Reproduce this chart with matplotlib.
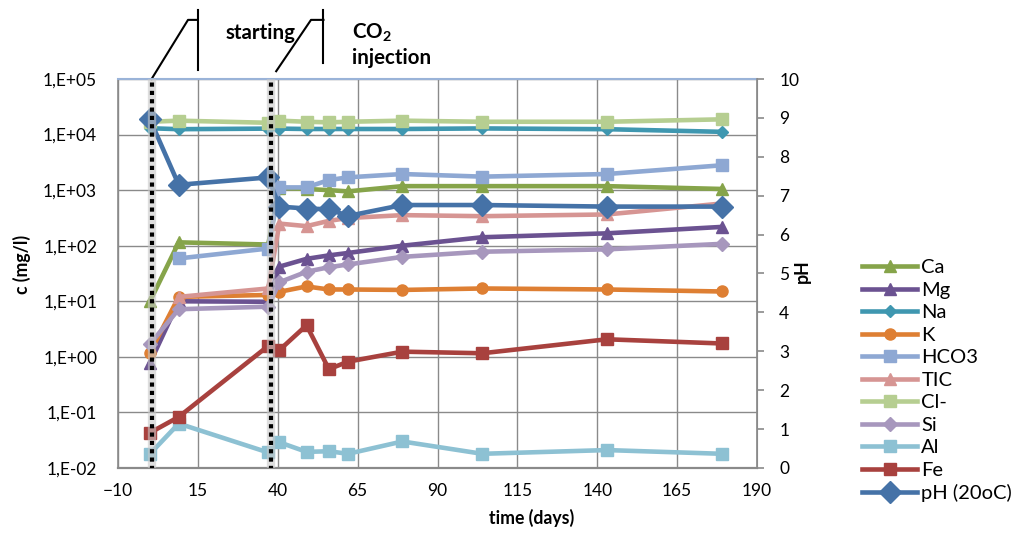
import numpy as np
import matplotlib
matplotlib.use("Agg")
import matplotlib.pyplot as plt
import matplotlib.transforms as mtransforms
from matplotlib.ticker import FixedLocator, FuncFormatter, NullLocator

plt.rcParams['font.family'] = ['Lato', 'DejaVu Sans']
plt.rcParams['mathtext.fontset'] = 'custom'
plt.rcParams['mathtext.rm'] = 'Lato'
plt.rcParams['mathtext.bf'] = 'Lato:bold'

nan = np.nan

# sampling times (days)
days = [0, 9, 37, 40.5, 49, 56, 62, 79, 104, 143, 179]

# concentrations (mg/l)
ca = [10, 115, 105, 1100, 1050, 1000, 950, 1180, 1180, 1180, 1050]
mg = [0.78, 10, 9.8, 42, 58, 67, 74, 100, 142, 167, 218]
na = [13000, 12500, 12800, 12800, 12600, 12600, 12600, 12600, 12900, 12500, 11200]
k = [1.19, 12, 13, 14.8, 18.5, 16.3, 16.3, 16, 17, 16.3, 15]
hco3 = [nan, 59, 89, 1120, 1120, 1520, 1700, 1950, 1750, 1950, 2800]
tic = [nan, 12, 17, 250, 225, 280, 315, 355, 340, 365, 575]
cl = [17000, 17800, 16300, 17800, 17000, 16600, 17000, 17800, 17000, 17000, 18800]
si = [1.7, 7.2, 8, 22, 34, 41, 46, 63, 78, 86, 108]
al = [0.018, 0.063, 0.019, 0.029, 0.0195, 0.020, 0.018, 0.030, 0.018, 0.021, 0.018]
fe = [0.043, 0.083, 1.57, 1.32, 3.7, 0.6, 0.82, 1.24, 1.16, 2.07, 1.74]

# pH on the secondary axis
ph = [8.96, 7.28, 7.47, 6.72, 6.67, 6.65, 6.48, 6.76, 6.76, 6.72, 6.72]

# event markers (days)
event_days = [0.5, 38]

# series styling: (label, values, color, marker, markersize)
series = [
    ("Ca", ca, "#86A44A", "^", 9),
    ("Mg", mg, "#6B5291", "^", 9),
    ("Na", na, "#3F97B0", "D", 6),
    ("K", k, "#DE7F33", "o", 8),
    ("HCO3", hco3, "#8EA8D3", "s", 9),
    ("TIC", tic, "#D69593", "^", 9),
    ("Cl-", cl, "#B6CE91", "s", 9),
    ("Si", si, "#A797BD", "D", 7),
    ("Al", al, "#8DC1D3", "s", 9),
    ("Fe", fe, "#A8413E", "s", 9),
]

fig = plt.figure(figsize=(10.22, 5.36), dpi=100)
ax = fig.add_axes([0.1155, 0.1269, 0.6252, 0.7257])
ax2 = ax.twinx()

handles = []
for label, vals, color, marker, ms in series:
    h, = ax.plot(days, vals, color=color, marker=marker, markersize=ms,
                 linewidth=3.3, label=label, zorder=3)
    handles.append(h)

hph, = ax2.plot(days, ph, color="#4572A7", marker="D", markersize=11,
                linewidth=3.3, label="pH (20oC)", zorder=3)
handles.append(hph)

# primary axis
ax.set_yscale("log")
ax.set_ylim(1e-2, 1e5)
ax.set_xlim(-10, 190)
ax.xaxis.set_major_locator(FixedLocator(np.arange(-10, 191, 25)))
ax.yaxis.set_major_locator(FixedLocator([10.0 ** e for e in range(-2, 6)]))
ax.yaxis.set_minor_locator(NullLocator())
ax.yaxis.set_major_formatter(FuncFormatter(lambda v, p: "1,E%+03d" % int(round(np.log10(v)))))
ax.grid(True, color="#8a8a8a", linewidth=1.0, zorder=0)
ax.set_axisbelow(True)
ax.tick_params(axis="both", length=0, labelsize=12.5, colors="#000000")
ax.tick_params(axis="x", pad=11)
ax.tick_params(axis="y", pad=15)
for s in ["left", "bottom", "right"]:
    ax.spines[s].set_color("#8a8a8a")
ax.spines["bottom"].set_linewidth(1.6)
ax.spines["left"].set_linewidth(1.2)
ax.spines["top"].set_color("#9AB3D8")
ax.spines["top"].set_linewidth(1.5)

ax.set_xlabel("time (days)", fontsize=12.7, fontweight="bold")
ax.xaxis.label.set_va("center")
ax.xaxis.set_label_coords(0.648, -0.1285)
ax.set_ylabel("c (mg/l)", fontsize=12.7, fontweight="bold")
ax.yaxis.label.set_va("center")
ax.yaxis.set_label_coords(-0.151, 0.522)

# secondary axis
ax2.set_ylim(0, 10)
ax2.yaxis.set_major_locator(FixedLocator(range(0, 11)))
ax2.tick_params(axis="y", length=5, width=1.2, color="#8a8a8a", labelsize=12.5, pad=11)
ax2.spines["right"].set_color("#8a8a8a")
ax2.spines["right"].set_linewidth(1.2)
for s in ["left", "bottom", "top"]:
    ax2.spines[s].set_visible(False)
ax2.set_ylabel("pH", fontsize=12.7, fontweight="bold")
ax2.yaxis.label.set_va("center")
ax2.yaxis.set_label_coords((802 - 118) / 639, 0.505)

# dotted event lines with soft shadow
for d in event_days:
    ax2.axvline(d, ymin=-0.005, ymax=1, color="#c8c8c8", linewidth=6, alpha=0.6, zorder=4)
    ax2.axvline(d, ymin=-0.005, ymax=1, color="black", linewidth=3,
                linestyle=(0, (1, 1)), dash_capstyle="butt", zorder=5)

# callouts above the plot
trans = mtransforms.blended_transform_factory(ax.transData, ax.transAxes)
callouts = [
    (event_days[0], 1.0, 11.9, 15.0, 1.023),
    (39.5, 1.02, 50.4, 54.3, 1.041),
]
for x0, y0, xk, xb, yb in callouts:
    ax.plot([x0, xk, xb], [y0, 1.152, 1.152], color="black", linewidth=1.5,
            transform=trans, clip_on=False)
    ax.plot([xb, xb], [yb, 1.177], color="black", linewidth=1.5,
            transform=trans, clip_on=False)
ax.text(23.7, 1.118, "starting", transform=trans, fontsize=14.8, fontweight="bold",
        ha="left", va="center")
ax.text(63.3, 1.118, r"CO$_\mathbf{2}$", transform=trans, fontsize=14.8, fontweight="bold",
        ha="left", va="center")
ax.text(63.3, 1.054, "injection", transform=trans, fontsize=14.8, fontweight="bold",
        ha="left", va="center")

fig.legend(handles=handles, loc="upper left", bbox_to_anchor=(862 / 1022, 1 - 259 / 536),
           bbox_transform=fig.transFigure, frameon=False, fontsize=14.5,
           borderpad=0, borderaxespad=0, handlelength=2.75, handletextpad=0.2,
           labelspacing=0.27)

fig.savefig("out.png", dpi=100)
